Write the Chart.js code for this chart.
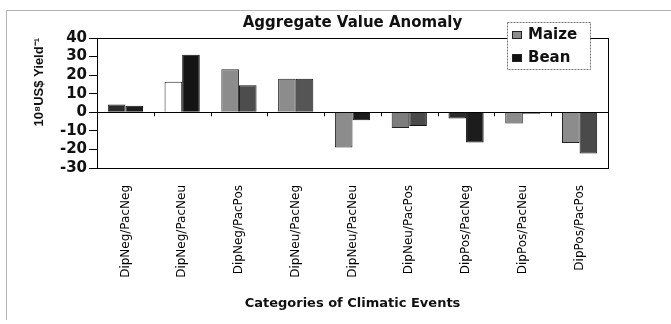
<!DOCTYPE html>
<html>
<head>
<meta charset="utf-8">
<script src="https://cdn.jsdelivr.net/npm/chart.js@4.4.1/dist/chart.umd.min.js"></script>
<style>
    html, body { margin: 0; padding: 0; background: #fff; }
    #wrap { width: 671px; height: 324px; }
</style>
</head>
<body>
<div id="wrap"><canvas id="anomalyChart" width="671" height="324"></canvas></div>
<script>
// data
var categories = ['DipNeg/PacNeg', 'DipNeg/PacNeu', 'DipNeg/PacPos', 'DipNeu/PacNeg', 'DipNeu/PacNeu',
                  'DipNeu/PacPos', 'DipPos/PacNeg', 'DipPos/PacNeu', 'DipPos/PacPos'];
var maizeValues = [4.2, 16.5, 23.2, 18, -19, -8.5, -3.4, -6, -16.5];
var beanValues = [3.5, 31, 14.5, 18, -4.3, -7.4, -16.3, -0.8, -22.2];
var yTicks = [40, 30, 20, 10, 0, -10, -20, -30];

// scanned figure has uneven fills, keep them per bar
var maizeColors = ['#2b2b2b', '#ffffff', '#8c8c8c', '#8c8c8c', '#8c8c8c', '#7d7d7d', '#2b2b2b', '#8c8c8c', '#8c8c8c'];
var beanColors = ['#1c1c1c', '#141414', '#4d4d4d', '#555555', '#1c1c1c', '#4a4a4a', '#1c1c1c', '#1c1c1c', '#4a4a4a'];

var frame = {
    id: 'frame',
    beforeDraw: function (chart) {
        var ctx = chart.ctx;
        ctx.save();
        ctx.fillStyle = '#fff';
        ctx.fillRect(0, 0, chart.width, chart.height);
        ctx.strokeStyle = '#b4b4b4';
        ctx.lineWidth = 1;
        ctx.beginPath();
        ctx.moveTo(6.5, 320);
        ctx.lineTo(6.5, 10.5);
        ctx.lineTo(chart.width, 10.5);
        ctx.stroke();
        ctx.restore();
    },
    afterDraw: function (chart) {
        var ctx = chart.ctx;
        var a = chart.chartArea;
        var x = chart.scales.x;
        var zeroY = chart.scales.y.getPixelForValue(0);
        ctx.save();
        ctx.strokeStyle = '#000';
        ctx.lineWidth = 1;
        ctx.strokeRect(Math.round(a.left) + 0.5, Math.round(a.top) + 0.5,
            Math.round(a.right - a.left), Math.round(a.bottom - a.top));
        // small category ticks on the zero line
        ctx.beginPath();
        for (var i = 1; i < categories.length; i++) {
            var px = Math.round((x.getPixelForValue(i - 1) + x.getPixelForValue(i)) / 2) + 0.5;
            ctx.moveTo(px, zeroY);
            ctx.lineTo(px, zeroY + 4);
        }
        ctx.stroke();

        // legend box
        var lx = 507, ly = 22, lw = 83, lh = 47;
        ctx.fillStyle = '#fff';
        ctx.fillRect(lx, ly, lw, lh);
        ctx.strokeStyle = '#777';
        ctx.setLineDash([2, 1]);
        ctx.strokeRect(lx + 0.5, ly + 0.5, lw, lh);
        ctx.setLineDash([]);
        ctx.font = 'bold 15px "DejaVu Sans"';
        ctx.textBaseline = 'middle';
        var legendFill = ['#8c8c8c', '#111'];
        chart.data.datasets.forEach(function (ds, k) {
            var cy = ly + 13 + k * 23;
            ctx.fillStyle = legendFill[k];
            ctx.fillRect(lx + 5, cy - 4, 10, 8);
            ctx.strokeStyle = '#222';
            ctx.strokeRect(lx + 5.5, cy - 3.5, 9, 7);
            ctx.fillStyle = '#111';
            ctx.fillText(ds.label, lx + 21, cy);
        });
        ctx.restore();
    }
};

var ctx = document.getElementById('anomalyChart').getContext('2d');
var anomalyChart = new Chart(ctx, {
    type: 'bar',
    data: {
        labels: categories,
        datasets: [{
            label: 'Maize',
            data: maizeValues,
            backgroundColor: maizeColors,
            borderColor: '#222',
            borderWidth: 1
        }, {
            label: 'Bean',
            data: beanValues,
            backgroundColor: beanColors,
            borderColor: '#111',
            borderWidth: 1
        }]
    },
    options: {
        responsive: false,
        animation: false,
        layout: { padding: { top: 0, left: 8, right: 63, bottom: 5 } },
        datasets: { bar: { categoryPercentage: 0.62, barPercentage: 1 } },
        plugins: {
            legend: { display: false },
            tooltip: { enabled: false },
            title: {
                display: true,
                text: 'Aggregate Value Anomaly',
                fullSize: false,
                color: '#111',
                font: { family: '"DejaVu Sans"', size: 15, weight: 'bold', lineHeight: 1.2 },
                padding: { top: 14, bottom: 6 }
            }
        },
        scales: {
            x: {
                grid: { display: false },
                border: { display: false },
                ticks: {
                    color: '#000',
                    font: { family: '"DejaVu Sans"', size: 12 },
                    minRotation: 90,
                    maxRotation: 90,
                    padding: 9,
                    autoSkip: false
                },
                title: {
                    display: true,
                    text: 'Categories of Climatic Events',
                    color: '#111',
                    font: { family: '"DejaVu Sans"', size: 13, weight: 'bold' },
                    padding: { top: 0, bottom: 8 }
                },
                afterFit: function (scale) { scale.height = 151; }
            },
            y: {
                min: -30,
                max: 40,
                afterBuildTicks: function (scale) {
                    scale.ticks = yTicks.map(function (v) { return { value: v }; });
                },
                grid: {
                    drawOnChartArea: true,
                    drawTicks: true,
                    tickLength: 8,
                    tickColor: '#000',
                    color: function (c) { return c.tick && c.tick.value === 0 ? '#000' : 'rgba(0,0,0,0)'; }
                },
                border: { display: true, color: '#000' },
                ticks: {
                    color: '#111',
                    font: { family: '"DejaVu Sans"', size: 15, weight: 'bold' },
                    padding: 2,
                    autoSkip: false
                },
                title: {
                    display: true,
                    text: '10⁸US$ Yield⁻¹',
                    align: 'end',
                    color: '#111',
                    font: { family: '"Liberation Sans"', size: 13, weight: 'bold' },
                    padding: { top: 24, bottom: 24 }
                },
                afterFit: function (scale) { scale.width = 89; }
            }
        }
    },
    plugins: [frame]
});
</script>
</body>
</html>
